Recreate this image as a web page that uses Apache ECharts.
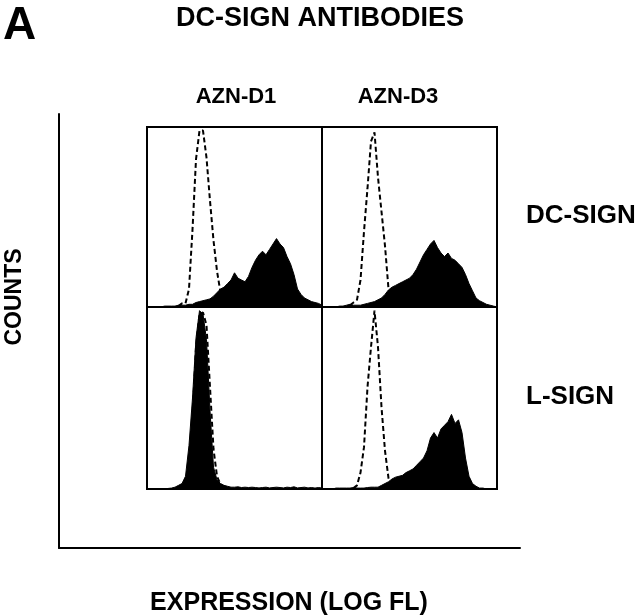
<!DOCTYPE html>
<html>
<head>
<meta charset="utf-8">
<script src="https://cdn.jsdelivr.net/npm/echarts@6/dist/echarts.min.js"></script>
<style>
html, body { margin: 0; background: #fff; }
#chart { width: 640px; height: 616px; }
</style>
</head>
<body>
<div id="chart"></div>
<script>
// fluorescence channel (log scale, 0-100 across each panel)
var channels = [0,2,4,6,8,10,12,14,16,18,20,22,24,26,28,30,32,34,36,38,40,42,44,46,48,50,
  52,54,56,58,60,62,64,66,68,70,72,74,76,78,80,82,84,86,88,90,92,94,96,98,100];

// DC-SIGN cells, AZN-D1 (filled) and isotype control (dashed)
var dcD1Stained = [0,0,0,0,0,0.5,0.5,0.5,0.5,1,1,1,1.5,1.5,2.5,3,3.5,4,4.5,6,8,10,11,13,15,19,
  16,15,14,17,22,26,29,31,29,32,35,38,35,33,28,24,18,10,7,5,4,3,2.5,2,1];
var dcD1Control = [null,null,null,null,null,null,null,null,null,0.5,2,2,10,43,82,98,98,83,59,37,20,8,2.5,1,0.5,
  null,null,null,null,null,null,null,null,null,null,null,null,null,null,null,null,null,null,null,null,null,null,null,null,null,null];

// DC-SIGN cells, AZN-D3
var dcD3Stained = [0,0,0,0,0,0.5,0.5,1,1.5,1,1,1,1.5,2,2.5,3,4,5,7,9.5,11,12,13,14,15,16,
  18,21,25,29,32,35,37,33,30,28,30,27,26,24,22,18,13,9,5,3.5,2.5,1.5,1,0.5,0];
var dcD3Control = [null,null,null,null,null,null,null,null,1,2.5,4,15,42,66,92,97,72,53,34,10,3,1,
  null,null,null,null,null,null,null,null,null,null,null,null,null,null,null,null,null,null,null,null,null,null,null,null,null,null,null,null,null];

// L-SIGN cells, AZN-D1
var lD1Stained = [0,0,0,0,0,0,0.3,0.5,1,2,3,7,24,50,83,98,96,82,43,12,5,3,2,1.5,1,1,
  1.2,0.8,1,0.8,1,0.8,0.6,0.8,1,0.6,0.8,1,0.8,0.6,1,0.8,1.2,0.6,0.8,1,0.6,0.8,0.5,0.8,0.5];
var lD1Control = [null,null,null,null,null,null,null,null,null,null,null,null,null,40,78,96,97,90,56,22,7,2.5,1,0.5,
  null,null,null,null,null,null,null,null,null,null,null,null,null,null,null,null,null,null,null,null,null,null,null,null,null,null,null];

// L-SIGN cells, AZN-D3
var lD3Stained = [0,0,0,0,0.5,0.5,0.5,0.5,0.5,0.8,0.5,0.5,0.5,0.8,1,1,1,2,3,4,5.5,6.5,7,7.5,9,10,
  11,13,15,17,21,28,31,28,33,35,37,41,36,38,31,17,7,3,1.5,0.5,0.5,0,0,0,0];
var lD3Control = [null,null,null,null,null,null,null,null,null,0.5,2,9,23,56,78,98,78,45,21,6,1.5,
  null,null,null,null,null,null,null,null,null,null,null,null,null,null,null,null,null,null,null,null,null,null,null,null,null,null,null,null,null,null];

var columnLabels = ['AZN-D1', 'AZN-D3'];
var rowLabels = ['DC-SIGN', 'L-SIGN'];

function pairs(ys) {
  var out = [];
  for (var i = 0; i < channels.length; i++) {
    out.push([channels[i], ys[i]]);
  }
  return out;
}

var panels = [
  {left: 147, top: 127, width: 175, height: 180, stained: dcD1Stained, control: dcD1Control},
  {left: 322, top: 127, width: 175, height: 180, stained: dcD3Stained, control: dcD3Control},
  {left: 147, top: 307, width: 175, height: 182, stained: lD1Stained, control: lD1Control},
  {left: 322, top: 307, width: 175, height: 182, stained: lD3Stained, control: lD3Control}
];

var grids = [], xAxes = [], yAxes = [], series = [];
panels.forEach(function (p, i) {
  grids.push({left: p.left, top: p.top, width: p.width, height: p.height,
    show: true, borderColor: '#000', borderWidth: 2});
  xAxes.push({type: 'value', gridIndex: i, min: 0, max: 100, show: false});
  yAxes.push({type: 'value', gridIndex: i, min: 0, max: 100, show: false});
  series.push({
    type: 'line', xAxisIndex: i, yAxisIndex: i, data: pairs(p.stained),
    showSymbol: false, lineStyle: {color: '#000', width: 1},
    areaStyle: {color: '#000', opacity: 1}, z: 2
  });
  series.push({
    type: 'line', xAxisIndex: i, yAxisIndex: i, data: pairs(p.control),
    showSymbol: false, connectNulls: false,
    lineStyle: {color: '#000', width: 2, type: [5, 3]}, z: 3
  });
});

// outer COUNTS / EXPRESSION axes
grids.push({left: 59, top: 114, width: 461, height: 434});
xAxes.push({type: 'value', gridIndex: 4, min: 0, max: 1,
  axisLine: {show: true, lineStyle: {color: '#000', width: 2}},
  axisTick: {show: false}, axisLabel: {show: false}, splitLine: {show: false}});
yAxes.push({type: 'value', gridIndex: 4, min: 0, max: 1,
  axisLine: {show: true, lineStyle: {color: '#000', width: 2}},
  axisTick: {show: false}, axisLabel: {show: false}, splitLine: {show: false}});

var fontFamily = '"Liberation Sans", Arial, sans-serif';
function label(text, x, y, size, align) {
  return {type: 'text', x: x, y: y, style: {text: text, fill: '#000',
    font: 'bold ' + size + 'px ' + fontFamily, align: align || 'center', verticalAlign: 'middle'}};
}

var chart = echarts.init(document.getElementById('chart'));
chart.setOption({
  animation: false,
  grid: grids,
  xAxis: xAxes,
  yAxis: yAxes,
  series: series,
  graphic: [
    label('A', 3, 26, 46, 'left'),
    label('DC-SIGN ANTIBODIES', 320, 19, 27),
    label(columnLabels[0], 236, 97, 22),
    label(columnLabels[1], 398, 97, 22),
    label(rowLabels[0], 526, 216, 26, 'left'),
    label(rowLabels[1], 526, 397, 26, 'left'),
    {type: 'text', x: 15, y: 297, rotation: Math.PI / 2,
      style: {text: 'COUNTS', fill: '#000', font: 'bold 23px ' + fontFamily,
        align: 'center', verticalAlign: 'middle'}},
    label('EXPRESSION (LOG FL)', 289, 603, 25)
  ]
});
</script>
</body>
</html>
